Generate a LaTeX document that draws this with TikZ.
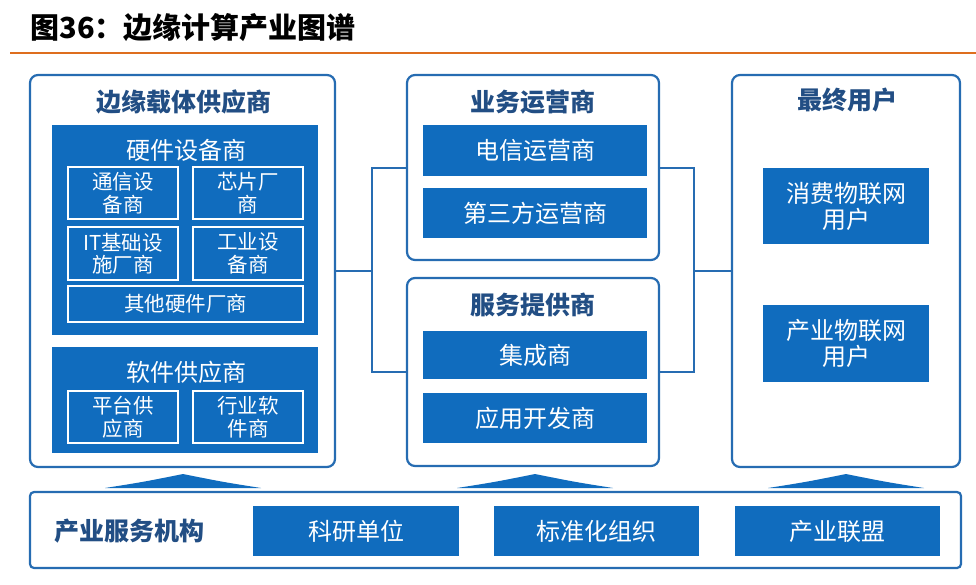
\documentclass[tikz,border=0pt]{standalone}
\usepackage{fontspec}
\usepackage{tikz}
\usetikzlibrary{arrows,positioning,calc}
\newfontfamily\cjk{Noto Sans CJK SC}
\definecolor{boxblue}{RGB}{16,108,190}
\definecolor{edgeblue}{RGB}{38,108,178}
\definecolor{headblue}{RGB}{34,78,132}
\definecolor{rulecol}{RGB}{222,110,30}
\tikzset{
  outerbox/.style={draw=edgeblue,line width=2.2pt,rounded corners=8pt,fill=white},
  bluebox/.style={fill=boxblue,text=white,font=\cjk\fontsize{24}{26}\selectfont,align=center},
  subbox/.style={draw=white,line width=1.2pt,text=white,font=\cjk\fontsize{20.5}{22.5}\selectfont,align=center},
  headtext/.style={text=headblue,font=\cjk\bfseries\fontsize{25}{28}\selectfont},
  link/.style={draw=edgeblue,line width=2pt},
  uparrow/.style={fill=boxblue}
}

\begin{document}
\begin{tikzpicture}[x=1pt,y=-1pt]
\useasboundingbox (0,0) rectangle (976,584);

\node[font=\cjk\bfseries\fontsize{29}{32}\selectfont,anchor=west] (title) at (27,28) {图36：边缘计算产业图谱};
\draw[rulecol,line width=2.5pt] (10,53) -- (976,53);

\node[outerbox,minimum width=305,minimum height=392] (lb) at (182.5,271) {};
\node[outerbox,minimum width=252,minimum height=185] (mt) at (533,167.5) {};
\node[outerbox,minimum width=252,minimum height=188] (mb) at (533,372) {};
\node[outerbox,minimum width=228,minimum height=392] (rb) at (846,271) {};
\node[outerbox,rounded corners=4pt,minimum width=931,minimum height=76] (bb) at (495.5,530) {};

\node[headtext] (lbhead) at (184,102) {边缘载体供应商};
\node[bluebox,minimum width=266,minimum height=210] (hw) at (185,230) {};
\node[bluebox] (hwhead) at (186,150) {硬件设备商};
\node[subbox,minimum width=110,minimum height=52] (hw1) at (123,193) {通信设\\备商};
\node[subbox,minimum width=110,minimum height=52] (hw2) at (248,193) {芯片厂\\商};
\node[subbox,minimum width=110,minimum height=53] (hw3) at (123,253.5) {IT基础设\\施厂商};
\node[subbox,minimum width=110,minimum height=53] (hw4) at (248,253.5) {工业设\\备商};
\node[subbox,minimum width=235,minimum height=36] (hw5) at (185.5,304) {其他硬件厂商};
\node[bluebox,minimum width=266,minimum height=106] (sw) at (185,400) {};
\node[bluebox] (swhead) at (186,372) {软件供应商};
\node[subbox,minimum width=110,minimum height=52] (sw1) at (123,417) {平台供\\应商};
\node[subbox,minimum width=110,minimum height=52] (sw2) at (248,417) {行业软\\件商};

\node[headtext] (mthead) at (533,102) {业务运营商};
\node[bluebox,minimum width=224,minimum height=51] (mt1) at (535,150.5) {电信运营商};
\node[bluebox,minimum width=224,minimum height=50] (mt2) at (535,213) {第三方运营商};
\node[headtext] (mbhead) at (533,305) {服务提供商};
\node[bluebox,minimum width=224,minimum height=48] (mb1) at (535,355) {集成商};
\node[bluebox,minimum width=224,minimum height=50] (mb2) at (535,418) {应用开发商};

\node[headtext] (rbhead) at (847,100) {最终用户};
\node[bluebox,minimum width=166,minimum height=76] (rb1) at (846,206) {消费物联网\\用户};
\node[bluebox,minimum width=166,minimum height=77] (rb2) at (846,343.5) {产业物联网\\用户};

\node[headtext] (bbhead) at (129,531) {产业服务机构};
\node[bluebox,minimum width=206,minimum height=50] (bb1) at (356,531) {科研单位};
\node[bluebox,minimum width=205,minimum height=50] (bb2) at (596.5,531) {标准化组织};
\node[bluebox,minimum width=205,minimum height=50] (bb3) at (837.5,531) {产业联盟};

\coordinate (jl) at ($(lb.east)+(36,0)$);
\coordinate (jr) at ($(rb.west)+(-37,0)$);
\draw[link] (lb.east) -- (jl);
\draw[link] (mt.west) -| (jl) |- (mb.west);
\draw[link] (mt.east) -| (jr) |- (mb.east);
\draw[link] (jr) -- (rb.west);

\foreach \ax in {183,535,846}
  \fill[uparrow] (\ax-78,488) .. controls (\ax-40,482) .. (\ax,474) .. controls (\ax+40,482) .. (\ax+78,488) -- cycle;
\end{tikzpicture}
\end{document}
